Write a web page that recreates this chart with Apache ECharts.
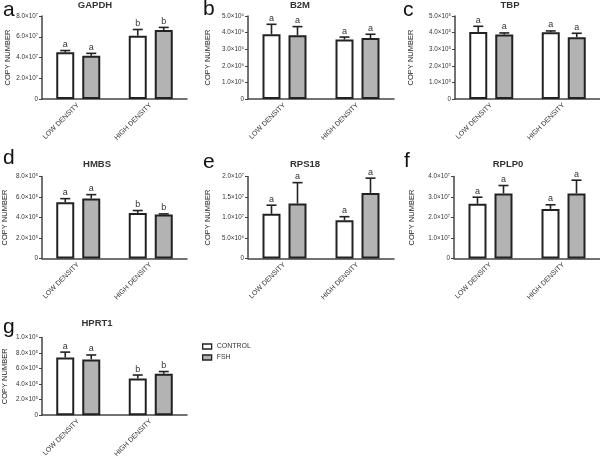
<!DOCTYPE html>
<html><head><meta charset="utf-8">
<script src="https://cdn.jsdelivr.net/npm/echarts@6/dist/echarts.min.js"></script>
<style>html,body{margin:0;padding:0;background:#fff}#c{width:600px;height:460px}</style>
</head><body><div id="c"></div>
<script>
const genes = ['GAPDH','B2M','TBP','HMBS','RPS18','RPLP0','HPRT1'];
const panelLetters = ['a','b','c','d','e','f','g'];
const categories = ['LOW DENSITY','HIGH DENSITY'];
const seriesNames = ['CONTROL','FSH'];
const controlMean = [[4.50e7,6.10e7],[3.90e6,3.58e6],[4.04e5,4.02e5],[5.49e5,4.45e5],[1.09e7,0.93e7],[2.67e7,2.42e7],[7.43e5,4.72e5]];
const controlSem  = [[0.17e7,0.60e7],[0.60e6,0.15e6],[0.34e5,0.08e5],[0.35e5,0.23e5],[0.21e7,0.09e7],[0.32e7,0.20e7],[0.69e5,0.45e5]];
const fshMean     = [[4.17e7,6.65e7],[3.84e6,3.67e6],[3.88e5,3.72e5],[5.85e5,4.30e5],[1.34e7,1.60e7],[3.17e7,3.17e7],[7.18e5,5.34e5]];
const fshSem      = [[0.23e7,0.25e7],[0.52e6,0.23e6],[0.10e5,0.24e5],[0.38e5,0.05e5],[0.51e7,0.36e7],[0.39e7,0.65e7],[0.57e5,0.28e5]];
const controlLetters = [['a','b'],['a','a'],['a','a'],['a','b'],['a','a'],['a','a'],['a','b']];
const fshLetters     = [['a','b'],['a','a'],['a','a'],['a','b'],['a','a'],['a','a'],['a','b']];
const yMax  = [8e7,5e6,5e5,8e5,2e7,4e7,1e6];
const yStep = [2e7,1e6,1e5,2e5,5e6,1e7,2e5];

// layout (pixels)
const grids = [
  {left:42, top:16, width:145, height:83},
  {left:248,top:16, width:146, height:83},
  {left:455,top:16, width:145, height:83},
  {left:41, top:176.5, width:146, height:82},
  {left:248,top:176.5, width:146, height:82},
  {left:454,top:176.5, width:146, height:82},
  {left:41, top:337.5, width:146, height:81.5}
];
const nameGaps = [30,36,40,33,36,38,33];
const titlePos = [[95,5],[300,5],[510,5],[97,164],[305,164],[508,164],[97,323]];
const letterPos = [[3,10],[203,9],[403,10],[3,158],[203,162],[404,161],[3,327]];

const FONT = 'Arial, "Liberation Sans", sans-serif';
const sup = '⁰¹²³⁴⁵⁶⁷⁸⁹';
function fmt(v){
  if (v === 0) return '0';
  const e = Math.floor(Math.log10(v) + 1e-9);
  const m = v / Math.pow(10, e);
  return m.toFixed(1) + '×10' + String(e).split('').map(d => sup[+d]).join('');
}

const BAR_W = 18, GAP = 8;
const OFF = (BAR_W + GAP) / 2;

const option = {
  animation: false,
  grid: grids.map(g => Object.assign({containLabel:false}, g)),
  xAxis: grids.map((g,i) => ({
    type:'category', gridIndex:i, data:categories,
    axisLine:{lineStyle:{color:'#444', width:1.5}},
    axisTick:{alignWithLabel:true, length:3, lineStyle:{color:'#444'}},
    axisLabel:{rotate:45, fontSize:7, color:'#333', fontFamily:FONT, margin:5, interval:0}
  })),
  yAxis: grids.map((g,i) => ({
    type:'value', gridIndex:i, min:0, max:yMax[i], interval:yStep[i],
    name:'COPY NUMBER', nameLocation:'middle', nameRotate:90, nameGap:nameGaps[i],
    nameTextStyle:{fontSize:7.5, color:'#222', fontFamily:FONT},
    axisLine:{show:true, lineStyle:{color:'#444', width:1.5}},
    axisTick:{show:true, length:3, lineStyle:{color:'#444'}},
    splitLine:{show:false},
    axisLabel:{fontSize:6.3, color:'#333', fontFamily:FONT, margin:4, formatter:fmt}
  })),
  legend: {
    orient:'vertical', left:197, top:338, itemWidth:9, itemHeight:5, itemGap:4,
    icon:'rect', data:seriesNames,
    textStyle:{fontSize:7, color:'#333', fontFamily:FONT},
    itemStyle:{borderWidth:1.3, borderColor:'#222'}
  },
  graphic: [],
  series: []
};

genes.forEach((gname, i) => {
  const t = titlePos[i], l = letterPos[i];
  option.graphic.push({type:'text', x:t[0], y:t[1], style:{text:gname, font:'bold 9.5px '+FONT, fill:'#333', align:'center', verticalAlign:'middle'}});
  option.graphic.push({type:'text', x:l[0], y:l[1], style:{text:panelLetters[i], font:'21px '+FONT, fill:'#111', align:'left', verticalAlign:'middle'}});
  const groups = [
    {name:seriesNames[0], mean:controlMean[i], sem:controlSem[i], letters:controlLetters[i], color:'#ffffff', off:-OFF},
    {name:seriesNames[1], mean:fshMean[i], sem:fshSem[i], letters:fshLetters[i], color:'#b3b3b3', off:OFF}
  ];
  groups.forEach(gr => {
    option.series.push({
      type:'bar', name:gr.name, xAxisIndex:i, yAxisIndex:i, data:gr.mean,
      barWidth:BAR_W, barGap:(GAP/BAR_W*100)+'%',
      itemStyle:{color:gr.color, borderColor:'#222', borderWidth:2},
      z:2
    });
  });
  groups.forEach(gr => {
    option.series.push({
      type:'custom', name:gr.name+'-err', xAxisIndex:i, yAxisIndex:i, z:5,
      data: gr.mean.map((m, k) => [k, m, gr.sem[k]]),
      renderItem: (params, api) => {
        const k = api.value(0);
        const base = api.coord([k, api.value(1)]);
        const top = api.coord([k, api.value(1) + api.value(2)]);
        const x = base[0] + gr.off;
        const st = {stroke:'#222', lineWidth:1.6};
        return {type:'group', children:[
          {type:'line', shape:{x1:x, y1:base[1], x2:x, y2:top[1]}, style:st},
          {type:'line', shape:{x1:x-5, y1:top[1], x2:x+5, y2:top[1]}, style:st},
          {type:'text', x:x, y:top[1]-6, style:{text:gr.letters[params.dataIndex], font:'9px '+FONT, fill:'#333', align:'center', verticalAlign:'middle'}}
        ]};
      }
    });
  });
});

const chart = echarts.init(document.getElementById('c'), null, {renderer:'canvas'});
chart.setOption(option);
</script>
</body></html>
